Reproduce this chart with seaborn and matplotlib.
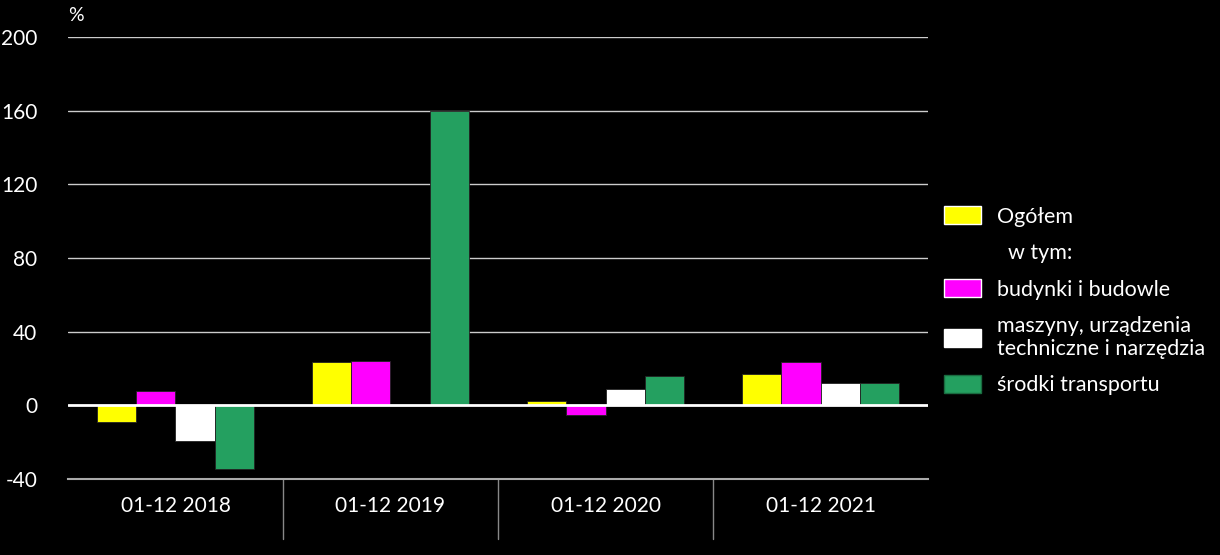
import pandas as pd
import seaborn as sns
import matplotlib.pyplot as plt
from matplotlib.patches import Patch

# data (%)
years = ['01-12 2018', '01-12 2019', '01-12 2020', '01-12 2021']
series = ['Ogółem', 'budynki i budowle',
          'maszyny, urządzenia\ntechniczne i narzędzia', 'środki transportu']
ogolem = [-9.3, 23.4, 2.2, 17.0]
budynki = [7.6, 24.3, -5.4, 23.4]
maszyny = [-19.4, -0.5, 9.1, 12.0]
transport = [-34.8, 160.0, 15.9, 12.3]
colors = ['#FFFF00', '#FF00FF', '#FFFFFF', '#24A060']
yticks = [-40, 0, 40, 80, 120, 160, 200]

df = pd.DataFrame({
    'okres': years * 4,
    'seria': [s for s in series for _ in years],
    'wartosc': ogolem + budynki + maszyny + transport,
})

sns.set_style('dark')
plt.rcParams['font.family'] = ['Lato', 'DejaVu Sans']

fig = plt.figure(figsize=(12.2, 5.55), dpi=100, facecolor='black')
ax = fig.add_axes([0.0557, 0.137, 0.705, 0.796])
ax.set_facecolor('black')

sns.barplot(data=df, x='okres', y='wartosc', hue='seria', hue_order=series,
            palette=colors, width=0.73, saturation=1, ax=ax, legend=False,
            linewidth=0.6, edgecolor='#222222')

ax.set_ylim(-40, 200)
ax.set_xlim(-0.5, 3.5)
ax.set_yticks(yticks)
ax.set_yticklabels([str(t) for t in yticks], color='white', fontsize=15)
ax.tick_params(axis='y', length=0, pad=22)
ax.tick_params(axis='x', length=0, pad=12, labelsize=15, labelcolor='white')
ax.set_xlabel('')
ax.set_ylabel('')
ax.grid(False)

for t in yticks[1:]:
    ax.axhline(t, color='white' if t == 0 else '#cccccc',
               lw=2 if t == 0 else 1, zorder=0.5 if t else 3)
for s in ['top', 'right', 'left']:
    ax.spines[s].set_visible(False)
ax.spines['bottom'].set_color('#aaaaaa')
ax.spines['bottom'].set_linewidth(1.5)

# separators between categories
for xs in [0.5, 1.5, 2.5]:
    ax.plot([xs, xs], [0, -0.135], transform=ax.get_xaxis_transform(),
            color='#888888', lw=1, clip_on=False)

ax.text(0.0, 1.03, '%', transform=ax.transAxes, color='white', fontsize=14,
        ha='left', va='bottom')

handles = [Patch(facecolor=colors[0]), Patch(visible=False),
           Patch(facecolor=colors[1]), Patch(facecolor=colors[2]),
           Patch(facecolor=colors[3], edgecolor='#1a6b40')]
labels = [series[0], '  w tym:', series[1], series[2], series[3]]
leg = fig.legend(handles, labels, loc='center left', bbox_to_anchor=(0.758, 0.458),
                 frameon=False, fontsize=15.5, labelcolor='white',
                 handlelength=1.7, handleheight=0.9, handletextpad=0.75,
                 labelspacing=0.75)

plt.savefig('out.png', dpi=100, facecolor='black')
